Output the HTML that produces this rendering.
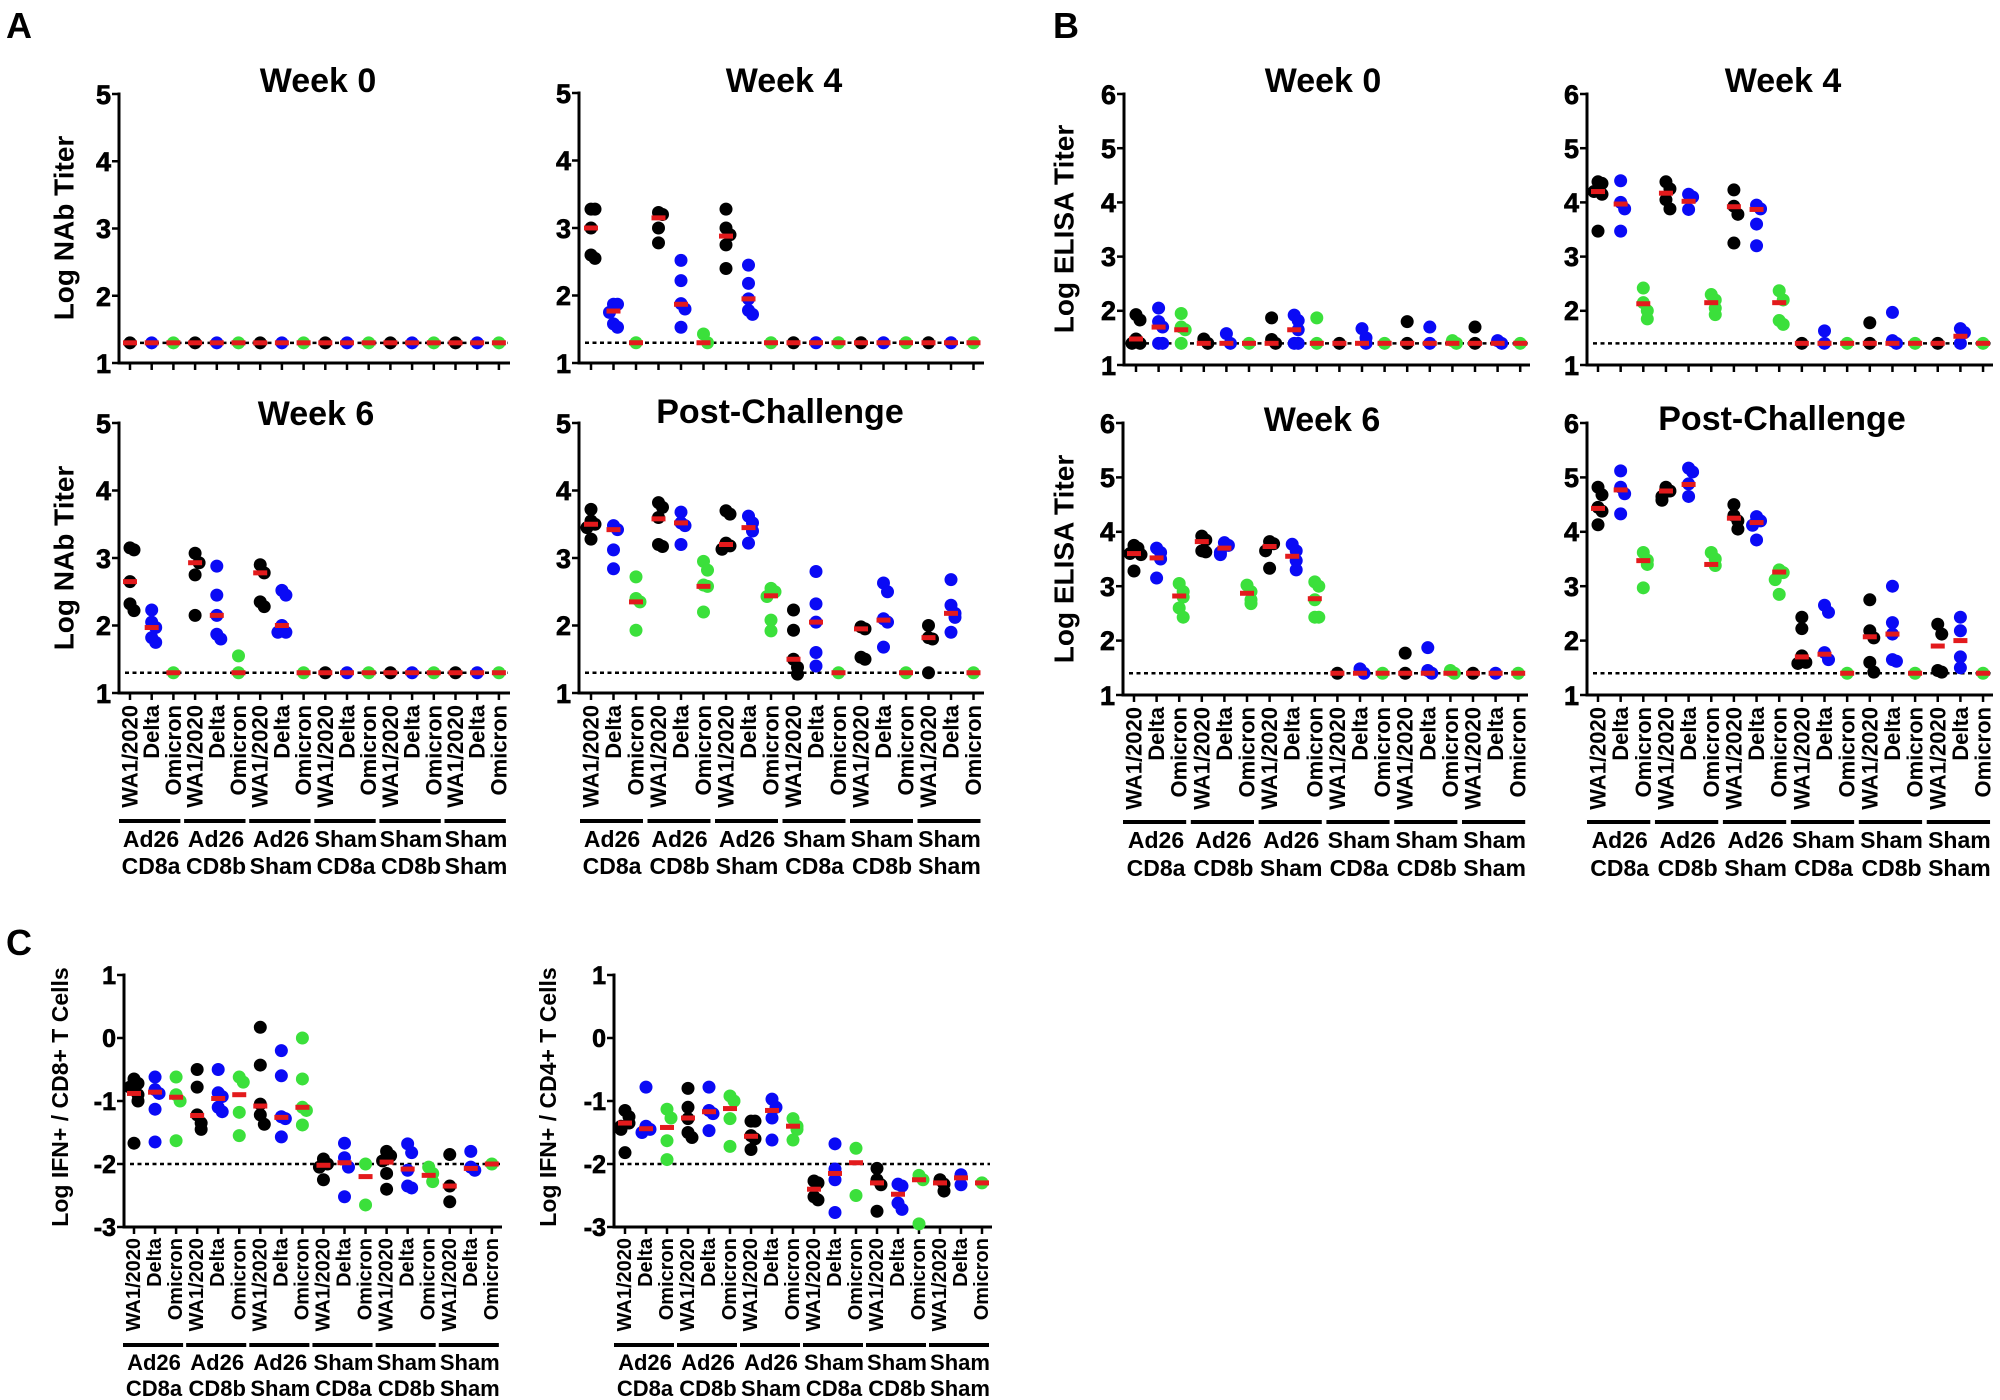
<!DOCTYPE html>
<html><head><meta charset="utf-8">
<style>
html,body{margin:0;padding:0;background:#fff}
svg{display:block}
text{font-family:"Liberation Sans",Arial,Helvetica,sans-serif;font-weight:bold;fill:#000}
.t{font-size:34px;text-anchor:middle}
.L{font-size:36px}
.yt{font-size:27px;text-anchor:end;dominant-baseline:central;stroke:#000;stroke-width:0.7px}
.ytc{font-size:25px}
.xl text{font-size:22px;text-anchor:end;dominant-baseline:central}
.xs text{font-size:20px}
.gl text{font-size:23px;text-anchor:middle}
.gs text{font-size:22px}
.yl{font-size:28px;text-anchor:middle;dominant-baseline:central}
.yc{font-size:23px}
</style></head><body>
<svg width="2000" height="1400" viewBox="0 0 2000 1400">
<rect width="2000" height="1400" fill="#fff"/>
<g id="plots"></g>

<!-- panel letters -->
<text class="L" x="6" y="38">A</text>
<text class="L" x="1053" y="38">B</text>
<text class="L" x="6" y="955">C</text>

<!-- titles -->
<text class="t" x="318" y="92">Week 0</text>
<text class="t" x="784" y="92">Week 4</text>
<text class="t" x="316" y="425">Week 6</text>
<text class="t" x="780" y="423">Post-Challenge</text>
<text class="t" x="1323" y="92">Week 0</text>
<text class="t" x="1783" y="92">Week 4</text>
<text class="t" x="1322" y="431">Week 6</text>
<text class="t" x="1782" y="430">Post-Challenge</text>

<!-- y axis titles -->
<text class="yl" transform="translate(64,228) rotate(-90)">Log NAb Titer</text>
<text class="yl" transform="translate(64,558) rotate(-90)">Log NAb Titer</text>
<text class="yl" transform="translate(1064,229) rotate(-90)">Log ELISA Titer</text>
<text class="yl" transform="translate(1064,559) rotate(-90)">Log ELISA Titer</text>
<text class="yl yc" transform="translate(60,1097) rotate(-90)">Log IFN+ / CD8+ T Cells</text>
<text class="yl yc" transform="translate(548,1097) rotate(-90)">Log IFN+ / CD4+ T Cells</text>

<!-- y tick labels -->
<g>
<text class="yt" x="111" y="95">5</text><text class="yt" x="111" y="162">4</text><text class="yt" x="111" y="229">3</text><text class="yt" x="111" y="297">2</text><text class="yt" x="111" y="364">1</text>
<text class="yt" x="571" y="94">5</text><text class="yt" x="571" y="161">4</text><text class="yt" x="571" y="229">3</text><text class="yt" x="571" y="296">2</text><text class="yt" x="571" y="364">1</text>
<text class="yt" x="111" y="424">5</text><text class="yt" x="111" y="491">4</text><text class="yt" x="111" y="559">3</text><text class="yt" x="111" y="626">2</text><text class="yt" x="111" y="694">1</text>
<text class="yt" x="571" y="424">5</text><text class="yt" x="571" y="491">4</text><text class="yt" x="571" y="559">3</text><text class="yt" x="571" y="626">2</text><text class="yt" x="571" y="694">1</text>
<text class="yt" x="1116" y="95">6</text><text class="yt" x="1116" y="149">5</text><text class="yt" x="1116" y="203">4</text><text class="yt" x="1116" y="257">3</text><text class="yt" x="1116" y="311">2</text><text class="yt" x="1116" y="366">1</text>
<text class="yt" x="1579" y="95">6</text><text class="yt" x="1579" y="149">5</text><text class="yt" x="1579" y="203">4</text><text class="yt" x="1579" y="257">3</text><text class="yt" x="1579" y="311">2</text><text class="yt" x="1579" y="366">1</text>
<text class="yt" x="1115" y="424">6</text><text class="yt" x="1115" y="478">5</text><text class="yt" x="1115" y="532">4</text><text class="yt" x="1115" y="587">3</text><text class="yt" x="1115" y="641">2</text><text class="yt" x="1115" y="696">1</text>
<text class="yt" x="1579" y="424">6</text><text class="yt" x="1579" y="478">5</text><text class="yt" x="1579" y="532">4</text><text class="yt" x="1579" y="587">3</text><text class="yt" x="1579" y="641">2</text><text class="yt" x="1579" y="696">1</text>
<text class="yt ytc" x="116" y="976">1</text><text class="yt ytc" x="116" y="1039">0</text><text class="yt ytc" x="116" y="1102">-1</text><text class="yt ytc" x="116" y="1165">-2</text><text class="yt ytc" x="116" y="1228">-3</text>
<text class="yt ytc" x="606" y="976">1</text><text class="yt ytc" x="606" y="1039">0</text><text class="yt ytc" x="606" y="1102">-1</text><text class="yt ytc" x="606" y="1165">-2</text><text class="yt ytc" x="606" y="1228">-3</text>
</g>

<!-- x tick labels -->
<g class="xl" transform="translate(130,705) rotate(-90)">
<text y="0">WA1/2020</text><text y="21.7">Delta</text><text y="43.4">Omicron</text>
<text y="65.1">WA1/2020</text><text y="86.8">Delta</text><text y="108.5">Omicron</text>
<text y="130.2">WA1/2020</text><text y="151.9">Delta</text><text y="173.6">Omicron</text>
<text y="195.3">WA1/2020</text><text y="217">Delta</text><text y="238.7">Omicron</text>
<text y="260.4">WA1/2020</text><text y="282.1">Delta</text><text y="303.8">Omicron</text>
<text y="325.5">WA1/2020</text><text y="347.2">Delta</text><text y="368.9">Omicron</text>
</g>
<g class="xl" transform="translate(591,705) rotate(-90)">
<text y="0">WA1/2020</text><text y="22.5">Delta</text><text y="45">Omicron</text>
<text y="67.5">WA1/2020</text><text y="90">Delta</text><text y="112.5">Omicron</text>
<text y="135">WA1/2020</text><text y="157.5">Delta</text><text y="180">Omicron</text>
<text y="202.5">WA1/2020</text><text y="225">Delta</text><text y="247.5">Omicron</text>
<text y="270">WA1/2020</text><text y="292.5">Delta</text><text y="315">Omicron</text>
<text y="337.5">WA1/2020</text><text y="360">Delta</text><text y="382.5">Omicron</text>
</g>
<g class="xl" transform="translate(1134,707) rotate(-90)">
<text y="0">WA1/2020</text><text y="22.6">Delta</text><text y="45.2">Omicron</text>
<text y="67.8">WA1/2020</text><text y="90.4">Delta</text><text y="113">Omicron</text>
<text y="135.6">WA1/2020</text><text y="158.2">Delta</text><text y="180.8">Omicron</text>
<text y="203.4">WA1/2020</text><text y="226">Delta</text><text y="248.6">Omicron</text>
<text y="271.2">WA1/2020</text><text y="293.8">Delta</text><text y="316.4">Omicron</text>
<text y="339">WA1/2020</text><text y="361.6">Delta</text><text y="384.2">Omicron</text>
</g>
<g class="xl" transform="translate(1598,707) rotate(-90)">
<text y="0">WA1/2020</text><text y="22.65">Delta</text><text y="45.3">Omicron</text>
<text y="67.95">WA1/2020</text><text y="90.6">Delta</text><text y="113.25">Omicron</text>
<text y="135.9">WA1/2020</text><text y="158.55">Delta</text><text y="181.2">Omicron</text>
<text y="203.85">WA1/2020</text><text y="226.5">Delta</text><text y="249.15">Omicron</text>
<text y="271.8">WA1/2020</text><text y="294.45">Delta</text><text y="317.1">Omicron</text>
<text y="339.75">WA1/2020</text><text y="362.4">Delta</text><text y="385.05">Omicron</text>
</g>
<g class="xl xs" transform="translate(134,1238) rotate(-90)">
<text y="0">WA1/2020</text><text y="21.05">Delta</text><text y="42.1">Omicron</text>
<text y="63.15">WA1/2020</text><text y="84.2">Delta</text><text y="105.25">Omicron</text>
<text y="126.3">WA1/2020</text><text y="147.35">Delta</text><text y="168.4">Omicron</text>
<text y="189.45">WA1/2020</text><text y="210.5">Delta</text><text y="231.55">Omicron</text>
<text y="252.6">WA1/2020</text><text y="273.65">Delta</text><text y="294.7">Omicron</text>
<text y="315.75">WA1/2020</text><text y="336.8">Delta</text><text y="357.85">Omicron</text>
</g>
<g class="xl xs" transform="translate(625,1238) rotate(-90)">
<text y="0">WA1/2020</text><text y="21">Delta</text><text y="42">Omicron</text>
<text y="63">WA1/2020</text><text y="84">Delta</text><text y="105">Omicron</text>
<text y="126">WA1/2020</text><text y="147">Delta</text><text y="168">Omicron</text>
<text y="189">WA1/2020</text><text y="210">Delta</text><text y="231">Omicron</text>
<text y="252">WA1/2020</text><text y="273">Delta</text><text y="294">Omicron</text>
<text y="315">WA1/2020</text><text y="336">Delta</text><text y="357">Omicron</text>
</g>

<!-- group labels -->
<g class="gl">
<text x="151" y="847">Ad26</text><text x="216" y="847">Ad26</text><text x="281" y="847">Ad26</text><text x="346" y="847">Sham</text><text x="411" y="847">Sham</text><text x="476" y="847">Sham</text>
<text x="151" y="874">CD8a</text><text x="216" y="874">CD8b</text><text x="281" y="874">Sham</text><text x="346" y="874">CD8a</text><text x="411" y="874">CD8b</text><text x="476" y="874">Sham</text>

<text x="612" y="847">Ad26</text><text x="679.5" y="847">Ad26</text><text x="747" y="847">Ad26</text><text x="814.5" y="847">Sham</text><text x="882" y="847">Sham</text><text x="949.5" y="847">Sham</text>
<text x="612" y="874">CD8a</text><text x="679.5" y="874">CD8b</text><text x="747" y="874">Sham</text><text x="814.5" y="874">CD8a</text><text x="882" y="874">CD8b</text><text x="949.5" y="874">Sham</text>

<text x="1156" y="848">Ad26</text><text x="1223.4" y="848">Ad26</text><text x="1291.2" y="848">Ad26</text><text x="1359" y="848">Sham</text><text x="1426.8" y="848">Sham</text><text x="1494.6" y="848">Sham</text>
<text x="1156" y="876">CD8a</text><text x="1223.4" y="876">CD8b</text><text x="1291.2" y="876">Sham</text><text x="1359" y="876">CD8a</text><text x="1426.8" y="876">CD8b</text><text x="1494.6" y="876">Sham</text>

<text x="1619.7" y="848">Ad26</text><text x="1687.6" y="848">Ad26</text><text x="1755.6" y="848">Ad26</text><text x="1823.5" y="848">Sham</text><text x="1891.5" y="848">Sham</text><text x="1959.4" y="848">Sham</text>
<text x="1619.7" y="876">CD8a</text><text x="1687.6" y="876">CD8b</text><text x="1755.6" y="876">Sham</text><text x="1823.5" y="876">CD8a</text><text x="1891.5" y="876">CD8b</text><text x="1959.4" y="876">Sham</text>
</g>
<g class="gl gs">
<text x="154" y="1370">Ad26</text><text x="217.2" y="1370">Ad26</text><text x="280.3" y="1370">Ad26</text><text x="343.5" y="1370">Sham</text><text x="406.6" y="1370">Sham</text><text x="469.8" y="1370">Sham</text>
<text x="154" y="1396">CD8a</text><text x="217.2" y="1396">CD8b</text><text x="280.3" y="1396">Sham</text><text x="343.5" y="1396">CD8a</text><text x="406.6" y="1396">CD8b</text><text x="469.8" y="1396">Sham</text>

<text x="645" y="1370">Ad26</text><text x="708" y="1370">Ad26</text><text x="771" y="1370">Ad26</text><text x="834" y="1370">Sham</text><text x="897" y="1370">Sham</text><text x="960" y="1370">Sham</text>
<text x="645" y="1396">CD8a</text><text x="708" y="1396">CD8b</text><text x="771" y="1396">Sham</text><text x="834" y="1396">CD8a</text><text x="897" y="1396">CD8b</text><text x="960" y="1396">Sham</text>
</g>
</svg>

<script>
(function(){
const L=(n,v)=>Array.from({length:n},()=>[[v],v]);
const A0=L(18,1.3);
const A4=[[[3.28,3.28,3.0,2.6,2.55],3.0],[[1.87,1.87,1.75,1.58,1.53],1.77],[[1.3],1.3],
[[3.23,3.2,3.0,2.78],3.15],[[2.52,2.22,1.88,1.8,1.53],1.87],[[1.43,1.3],1.3],
[[3.28,3.0,2.9,2.75,2.4],2.88],[[2.45,2.18,1.95,1.78,1.72],1.95]].concat(L(10,1.3));
const A6=[[[3.15,3.12,2.65,2.32,2.22],2.65],[[2.23,2.05,1.97,1.82,1.75],1.97],[[1.3],1.3],
[[3.07,2.93,2.75,2.15],2.93],[[2.88,2.45,2.15,1.87,1.8],2.15],[[1.55,1.3],1.3],
[[2.9,2.78,2.35,2.28],2.78],[[2.52,2.45,2.0,1.9,1.9],2.0]].concat(L(10,1.3));
const AP=[[[3.72,3.55,3.5,3.45,3.28],3.5],[[3.48,3.42,3.12,2.84],3.42],[[2.72,2.4,2.35,1.93],2.35],
[[3.82,3.75,3.6,3.2,3.17],3.58],[[3.68,3.52,3.48,3.2],3.52],[[2.95,2.82,2.6,2.58,2.2],2.58],
[[3.7,3.65,3.22,3.18,3.13],3.2],[[3.62,3.52,3.4,3.22],3.45],[[2.55,2.5,2.43,2.08,1.92],2.44],
[[2.23,1.93,1.5,1.38,1.28],1.5],[[2.8,2.32,2.05,1.6,1.4],2.05],[[1.3],1.3],
[[1.98,1.95,1.53,1.5],1.95],[[2.63,2.5,2.1,2.05,1.68],2.08],[[1.3],1.3],
[[2.0,1.82,1.8,1.3],1.82],[[2.68,2.3,2.18,2.12,1.9],2.18],[[1.3],1.3]];
const B0=[[[1.93,1.83,1.48,1.4,1.4],1.48],[[2.05,1.8,1.7,1.4,1.4],1.7],[[1.95,1.7,1.65,1.4],1.65],
[[1.48,1.4],1.4],[[1.58,1.4],1.4],[[1.4],1.4],
[[1.87,1.47,1.4],1.4],[[1.92,1.82,1.65,1.4,1.4],1.65],[[1.87,1.4],1.4],
[[1.4],1.4],[[1.67,1.5,1.4],1.4],[[1.4],1.4],
[[1.8,1.4],1.4],[[1.7,1.4],1.4],[[1.45,1.4],1.4],
[[1.7,1.4],1.4],[[1.45,1.4],1.4],[[1.4],1.4]];
const B4=[[[4.38,4.35,4.2,4.15,3.47],4.2],[[4.4,4.0,3.88,3.47],3.97],[[2.42,2.15,2.0,1.85],2.13],
[[4.38,4.25,4.05,3.88],4.17],[[4.15,4.1,3.87],4.02],[[2.3,2.2,2.05,1.93],2.15],
[[4.23,3.93,3.78,3.25],3.92],[[3.95,3.88,3.6,3.2],3.87],[[2.37,2.2,1.82,1.75],2.15],
[[1.4],1.4],[[1.63,1.4],1.4],[[1.4],1.4],
[[1.78,1.4],1.4],[[1.97,1.45,1.4],1.4],[[1.4],1.4],
[[1.4],1.4],[[1.67,1.6,1.4],1.53],[[1.4],1.4]];
const B6=[[[3.75,3.7,3.6,3.58,3.28],3.6],[[3.7,3.62,3.5,3.15],3.52],[[3.05,2.9,2.8,2.6,2.43],2.82],
[[3.92,3.85,3.65,3.63],3.82],[[3.8,3.75,3.62,3.58],3.7],[[3.02,2.9,2.75,2.68],2.87],
[[3.82,3.78,3.65,3.33],3.73],[[3.77,3.65,3.47,3.3],3.55],[[3.08,3.0,2.75,2.43,2.43],2.77],
[[1.4],1.4],[[1.48,1.4],1.4],[[1.4],1.4],
[[1.77,1.4],1.4],[[1.87,1.45,1.4],1.4],[[1.45,1.4],1.4]].concat(L(3,1.4));
const BP=[[[4.82,4.68,4.45,4.38,4.13],4.43],[[5.12,4.82,4.7,4.33],4.77],[[3.62,3.48,3.4,2.97],3.47],
[[4.82,4.75,4.65,4.58],4.75],[[5.17,5.1,4.88,4.65],4.87],[[3.62,3.5,3.38],3.4],
[[4.5,4.3,4.2,4.05],4.25],[[4.28,4.2,4.12,3.85],4.17],[[3.3,3.25,3.12,2.85],3.26],
[[2.43,2.22,1.72,1.6,1.58],1.7],[[2.65,2.52,1.78,1.65],1.75],[[1.4],1.4],
[[2.75,2.18,2.05,1.6,1.42],2.07],[[3.0,2.33,2.12,1.65,1.62],2.12],[[1.4],1.4],
[[2.3,2.12,1.45,1.42],1.9],[[2.43,2.18,1.7,1.5],2.0],[[1.4],1.4]];
const C1=[[[-0.65,-0.72,-0.78,-0.9,-1.0,-1.67],-0.88],[[-0.62,-0.82,-0.88,-1.13,-1.65],-0.86],[[-0.62,-0.9,-1.0,-1.63],-0.94],
[[-0.5,-0.78,-1.22,-1.35,-1.45],-1.23],[[-0.5,-0.87,-0.93,-1.1,-1.17],-0.96],[[-0.62,-0.7,-1.18,-1.55],-0.9],
[[0.17,-0.43,-1.05,-1.22,-1.37],-1.08],[[-0.2,-0.6,-1.25,-1.28,-1.57],-1.26],[[0.0,-0.65,-1.1,-1.15,-1.38],-1.1],
[[-1.92,-2.0,-2.05,-2.25],-2.02],[[-1.67,-1.9,-2.05,-2.52],-1.98],[[-2.0,-2.65],-2.2],
[[-1.8,-1.87,-1.95,-2.15,-2.4],-1.97],[[-1.68,-1.82,-2.1,-2.35,-2.38],-2.08],[[-2.05,-2.15,-2.28],-2.18],
[[-1.85,-2.35,-2.6],-2.35],[[-1.8,-2.05,-2.1],-2.07],[[-2.0],-2.0]];
const C2=[[[-1.15,-1.25,-1.35,-1.4,-1.45,-1.82],-1.35],[[-0.78,-1.4,-1.45,-1.5],-1.44],[[-1.13,-1.27,-1.63,-1.93],-1.42],
[[-0.8,-1.1,-1.28,-1.5,-1.58],-1.27],[[-0.78,-1.15,-1.2,-1.47],-1.17],[[-0.92,-1.0,-1.28,-1.72],-1.12],
[[-1.32,-1.32,-1.55,-1.6,-1.77],-1.56],[[-0.97,-1.1,-1.27,-1.62],-1.15],[[-1.28,-1.4,-1.45,-1.62],-1.4],
[[-2.27,-2.3,-2.52,-2.57],-2.4],[[-1.68,-2.08,-2.25,-2.77],-2.15],[[-1.75,-2.5],-1.98],
[[-2.07,-2.25,-2.33,-2.75],-2.3],[[-2.32,-2.35,-2.62,-2.72],-2.48],[[-2.18,-2.25,-2.95],-2.25],
[[-2.25,-2.32,-2.43],-2.3],[[-2.17,-2.33],-2.22],[[-2.3],-2.3]];
const P=[
{x0:119,xe:510,yt:94,yb:363,lo:1,hi:5,t0:130,sp:21.7,lod:1.3,d:A0},
{x0:579,xe:984,yt:93,yb:363,lo:1,hi:5,t0:591,sp:22.5,lod:1.3,d:A4},
{x0:119,xe:510,yt:423,yb:693,lo:1,hi:5,t0:130,sp:21.7,lod:1.3,d:A6,gb:821},
{x0:579,xe:984,yt:423,yb:693,lo:1,hi:5,t0:591,sp:22.5,lod:1.3,d:AP,gb:821},
{x0:1124,xe:1530,yt:94,yb:365,lo:1,hi:6,t0:1136,sp:22.6,lod:1.4,d:B0},
{x0:1587,xe:1993,yt:94,yb:365,lo:1,hi:6,t0:1598,sp:22.65,lod:1.4,d:B4},
{x0:1123,xe:1528,yt:423,yb:695,lo:1,hi:6,t0:1134,sp:22.6,lod:1.4,d:B6,gb:822},
{x0:1587,xe:1993,yt:423,yb:695,lo:1,hi:6,t0:1598,sp:22.65,lod:1.4,d:BP,gb:822},
{x0:124,xe:502,yt:975,yb:1227,lo:-3,hi:1,t0:134,sp:21.05,lod:-2,d:C1,gb:1345},
{x0:614,xe:992,yt:975,yb:1227,lo:-3,hi:1,t0:625,sp:21,lod:-2,d:C2,gb:1345}
];
const COL=['#000000','#0a0af5','#3be03b'];
let s='';
for(const c of P){
  const k=(c.yb-c.yt)/(c.hi-c.lo), Y=v=>c.yb-(v-c.lo)*k;
  s+=`<path d="M${c.x0} ${c.yt-1.5}V${c.yb}H${c.xe}" fill="none" stroke="#000" stroke-width="3"/>`;
  for(let v=c.lo;v<=c.hi;v++){const y=Y(v);s+=`<line x1="${c.x0-7}" x2="${c.x0}" y1="${y}" y2="${y}" stroke="#000" stroke-width="2.5"/>`;}
  for(let i=0;i<18;i++){const x=c.t0+i*c.sp;s+=`<line x1="${x}" x2="${x}" y1="${c.yb}" y2="${c.yb+7}" stroke="#000" stroke-width="2.5"/>`;}
  if(c.gb){for(let g=0;g<6;g++){s+=`<line x1="${c.t0+3*g*c.sp-11}" x2="${c.t0+(3*g+2)*c.sp+7}" y1="${c.gb}" y2="${c.gb}" stroke="#000" stroke-width="4"/>`;}}
  const ly=Y(c.lod);
  s+=`<line x1="${c.x0+6}" x2="${c.xe-2}" y1="${ly}" y2="${ly}" stroke="#000" stroke-width="2.5" stroke-dasharray="4 3.5"/>`;
  c.d.forEach((d,i)=>{
    const cx=c.t0+i*c.sp, col=COL[i%3], pl=[];
    d[0].forEach(v=>{const y=Y(v);const n=pl.filter(p=>Math.abs(p-y)<10).length;pl.push(y);
      const off=[0,4,-4,7,-7,2][n]||0;
      s+=`<circle cx="${cx+off}" cy="${y}" r="6.5" fill="${col}"/>`;});
  });
  c.d.forEach((d,i)=>{const cx=c.t0+i*c.sp;
    s+=`<rect x="${cx-7}" y="${Y(d[1])-2.5}" width="14" height="5" fill="#e31a1c"/>`;});
}
document.getElementById('plots').innerHTML=s;
})();
</script>
</body></html>
